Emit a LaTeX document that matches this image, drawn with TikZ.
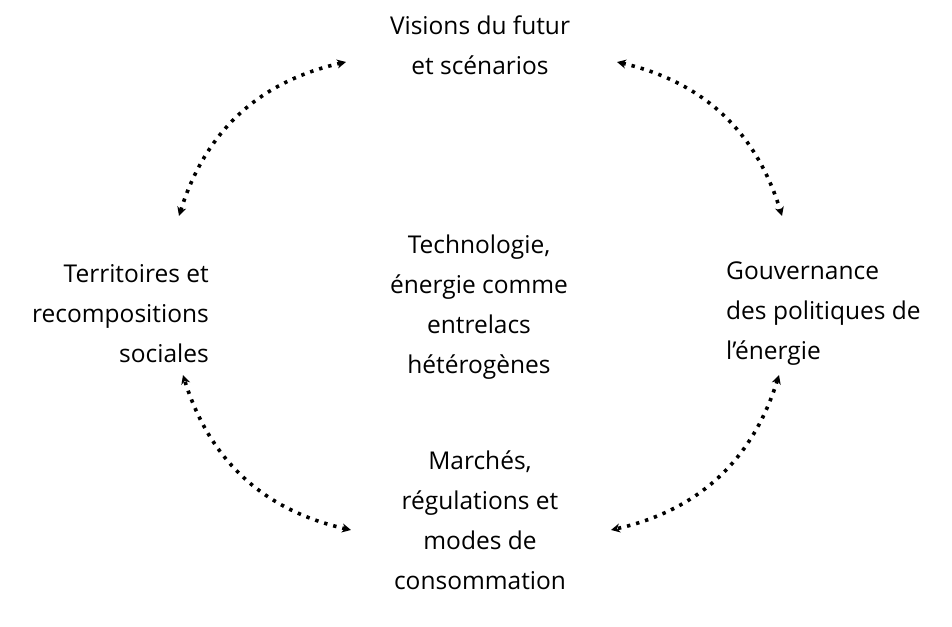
\documentclass[tikz,border=0pt]{standalone}
\usepackage{fontspec}
\setmainfont{Open Sans}
\usetikzlibrary{arrows.meta}

\begin{document}
\begin{tikzpicture}[x=1pt,y=1pt,
    lbl/.style={font=\fontsize{24.5}{40}\selectfont,inner sep=0pt},
    link/.style={line width=3.6pt,dash pattern=on 3.4pt off 6pt,{Stealth[length=9pt,width=9pt]}-{Stealth[length=9pt,width=9pt]}}]
        \useasboundingbox (0,0) rectangle (952,626);
        \node[lbl,align=center] (vis) at (480,581) {Visions du futur\\et scénarios};
        \node[lbl,align=right,anchor=east] (ter) at (209,312) {Territoires et\\recompositions\\sociales};
        \node[lbl,align=center] (tech) at (479,319) {Technologie,\\énergie comme\\entrelacs\\hétérogènes};
        \node[lbl,align=left,anchor=west] (gov) at (726,312) {Gouvernance\\des politiques de\\l'énergie};
        \node[lbl,align=center] (mar) at (480,106) {Marchés,\\régulations et\\modes de\\consommation};

        % arrow ends
        \coordinate (visW) at (346,564);
        \coordinate (visE) at (617,564);
        \coordinate (terN) at (179,410);
        \coordinate (terS) at (183,251);
        \coordinate (govN) at (782,410);
        \coordinate (govS) at (779,251);
        \coordinate (marW) at (351,96);
        \coordinate (marE) at (611,96);

        \draw[link] (terN) to[bend left=30] (visW);
        \draw[link] (visE) to[bend left=30] (govN);
        \draw[link] (govS) to[bend left=30] (marE);
        \draw[link] (marW) to[bend left=30] (terS);
\end{tikzpicture}
\end{document}
